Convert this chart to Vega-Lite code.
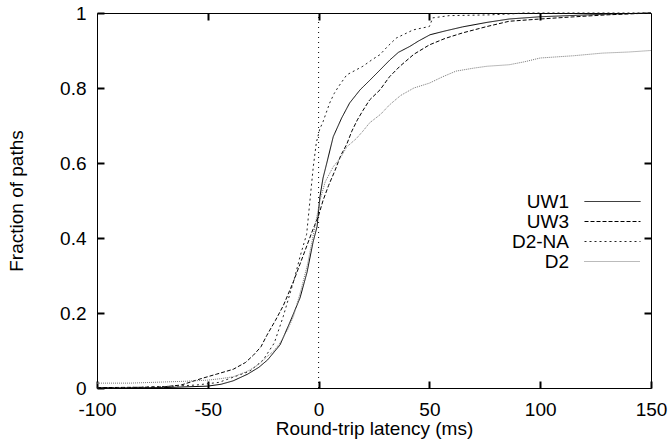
{
  "$schema": "https://vega.github.io/schema/vega-lite/v6.json",
  "width": 554,
  "height": 375,
  "autosize": "none",
  "padding": {"left": 97, "top": 13, "right": 17, "bottom": 55},
  "background": "white",
  "config": {
    "font": "Liberation Sans",
    "view": {"stroke": "#000", "strokeWidth": 1},
    "axis": {"grid": false, "domain": false, "labelColor": "#000", "titleColor": "#000", "labelFont": "Liberation Sans", "titleFont": "Liberation Sans", "labelFontSize": 19, "titleFontSize": 19, "titleFontWeight": "normal", "labelFlush": false, "labelOverlap": false}
  },
  "datasets": {
    "cdf": [
      {"s":"UW1","x":-100,"y":0},{"s":"UW1","x":-70,"y":0.001},{"s":"UW1","x":-50,"y":0.005},{"s":"UW1","x":-44,"y":0.01},{"s":"UW1","x":-38.6,"y":0.019},{"s":"UW1","x":-32,"y":0.037},{"s":"UW1","x":-27,"y":0.055},{"s":"UW1","x":-23,"y":0.075},{"s":"UW1","x":-17.4,"y":0.115},{"s":"UW1","x":-12.9,"y":0.176},{"s":"UW1","x":-8.4,"y":0.24},{"s":"UW1","x":-5.2,"y":0.309},{"s":"UW1","x":-2.5,"y":0.389},{"s":"UW1","x":-0.7,"y":0.43},{"s":"UW1","x":0.6,"y":0.51},{"s":"UW1","x":2,"y":0.56},{"s":"UW1","x":3.7,"y":0.6},{"s":"UW1","x":6.6,"y":0.67},{"s":"UW1","x":10.4,"y":0.72},{"s":"UW1","x":14,"y":0.76},{"s":"UW1","x":18.7,"y":0.795},{"s":"UW1","x":23,"y":0.82},{"s":"UW1","x":27.7,"y":0.848},{"s":"UW1","x":32.2,"y":0.875},{"s":"UW1","x":36,"y":0.895},{"s":"UW1","x":41.2,"y":0.911},{"s":"UW1","x":45,"y":0.925},{"s":"UW1","x":50.3,"y":0.942},{"s":"UW1","x":57,"y":0.952},{"s":"UW1","x":65,"y":0.963},{"s":"UW1","x":76,"y":0.975},{"s":"UW1","x":86,"y":0.984},{"s":"UW1","x":100,"y":0.99},{"s":"UW1","x":113,"y":0.993},{"s":"UW1","x":130,"y":0.997},{"s":"UW1","x":150,"y":1},
      {"s":"UW3","x":-100,"y":0.001},{"s":"UW3","x":-80,"y":0.002},{"s":"UW3","x":-70,"y":0.003},{"s":"UW3","x":-62,"y":0.008},{"s":"UW3","x":-53,"y":0.025},{"s":"UW3","x":-46,"y":0.037},{"s":"UW3","x":-38.5,"y":0.05},{"s":"UW3","x":-33,"y":0.068},{"s":"UW3","x":-29.5,"y":0.087},{"s":"UW3","x":-26,"y":0.11},{"s":"UW3","x":-23.4,"y":0.14},{"s":"UW3","x":-19.5,"y":0.18},{"s":"UW3","x":-15.9,"y":0.22},{"s":"UW3","x":-11.4,"y":0.283},{"s":"UW3","x":-6.9,"y":0.354},{"s":"UW3","x":-3,"y":0.416},{"s":"UW3","x":0,"y":0.46},{"s":"UW3","x":2,"y":0.5},{"s":"UW3","x":4.5,"y":0.54},{"s":"UW3","x":7.4,"y":0.58},{"s":"UW3","x":10,"y":0.62},{"s":"UW3","x":12.7,"y":0.65},{"s":"UW3","x":15,"y":0.685},{"s":"UW3","x":17.5,"y":0.715},{"s":"UW3","x":20,"y":0.74},{"s":"UW3","x":23,"y":0.768},{"s":"UW3","x":27.7,"y":0.795},{"s":"UW3","x":32,"y":0.83},{"s":"UW3","x":36.7,"y":0.858},{"s":"UW3","x":43,"y":0.89},{"s":"UW3","x":50,"y":0.915},{"s":"UW3","x":57,"y":0.932},{"s":"UW3","x":65,"y":0.947},{"s":"UW3","x":76,"y":0.964},{"s":"UW3","x":86,"y":0.978},{"s":"UW3","x":100,"y":0.984},{"s":"UW3","x":113,"y":0.989},{"s":"UW3","x":130,"y":0.995},{"s":"UW3","x":150,"y":1},
      {"s":"D2-NA","x":-100,"y":0},{"s":"D2-NA","x":-80,"y":0.002},{"s":"D2-NA","x":-65,"y":0.005},{"s":"D2-NA","x":-55,"y":0.008},{"s":"D2-NA","x":-45,"y":0.015},{"s":"D2-NA","x":-38,"y":0.03},{"s":"D2-NA","x":-31,"y":0.045},{"s":"D2-NA","x":-25,"y":0.075},{"s":"D2-NA","x":-20,"y":0.12},{"s":"D2-NA","x":-16,"y":0.19},{"s":"D2-NA","x":-13,"y":0.25},{"s":"D2-NA","x":-11,"y":0.29},{"s":"D2-NA","x":-8.4,"y":0.35},{"s":"D2-NA","x":-5.4,"y":0.41},{"s":"D2-NA","x":-3.9,"y":0.5},{"s":"D2-NA","x":-2.4,"y":0.59},{"s":"D2-NA","x":-1,"y":0.655},{"s":"D2-NA","x":0.5,"y":0.69},{"s":"D2-NA","x":2,"y":0.71},{"s":"D2-NA","x":3.5,"y":0.735},{"s":"D2-NA","x":5,"y":0.76},{"s":"D2-NA","x":7,"y":0.785},{"s":"D2-NA","x":8.9,"y":0.803},{"s":"D2-NA","x":12.7,"y":0.835},{"s":"D2-NA","x":20,"y":0.858},{"s":"D2-NA","x":24,"y":0.875},{"s":"D2-NA","x":27.7,"y":0.889},{"s":"D2-NA","x":31,"y":0.91},{"s":"D2-NA","x":35,"y":0.933},{"s":"D2-NA","x":42.7,"y":0.955},{"s":"D2-NA","x":50,"y":0.964},{"s":"D2-NA","x":51.5,"y":0.987},{"s":"D2-NA","x":59,"y":0.993},{"s":"D2-NA","x":77,"y":0.995},{"s":"D2-NA","x":88,"y":0.998},{"s":"D2-NA","x":92,"y":1},{"s":"D2-NA","x":150,"y":1},
      {"s":"D2","x":-100,"y":0.013},{"s":"D2","x":-85,"y":0.013},{"s":"D2","x":-70,"y":0.016},{"s":"D2","x":-60,"y":0.018},{"s":"D2","x":-50,"y":0.021},{"s":"D2","x":-44,"y":0.025},{"s":"D2","x":-38.5,"y":0.03},{"s":"D2","x":-34,"y":0.04},{"s":"D2","x":-31,"y":0.048},{"s":"D2","x":-27,"y":0.063},{"s":"D2","x":-23.4,"y":0.083},{"s":"D2","x":-20,"y":0.1},{"s":"D2","x":-17.4,"y":0.12},{"s":"D2","x":-14,"y":0.155},{"s":"D2","x":-11.4,"y":0.19},{"s":"D2","x":-8,"y":0.26},{"s":"D2","x":-5,"y":0.33},{"s":"D2","x":-2,"y":0.42},{"s":"D2","x":0.6,"y":0.5},{"s":"D2","x":3,"y":0.55},{"s":"D2","x":6.6,"y":0.59},{"s":"D2","x":10,"y":0.615},{"s":"D2","x":12.7,"y":0.643},{"s":"D2","x":17,"y":0.665},{"s":"D2","x":20,"y":0.685},{"s":"D2","x":23,"y":0.707},{"s":"D2","x":28,"y":0.73},{"s":"D2","x":32,"y":0.755},{"s":"D2","x":37,"y":0.78},{"s":"D2","x":43,"y":0.8},{"s":"D2","x":50,"y":0.813},{"s":"D2","x":56,"y":0.83},{"s":"D2","x":62,"y":0.845},{"s":"D2","x":70,"y":0.853},{"s":"D2","x":76,"y":0.858},{"s":"D2","x":86,"y":0.862},{"s":"D2","x":93,"y":0.87},{"s":"D2","x":100,"y":0.88},{"s":"D2","x":115,"y":0.886},{"s":"D2","x":128,"y":0.893},{"s":"D2","x":140,"y":0.896},{"s":"D2","x":150,"y":0.9}
    ],
    "zero": [{"x": 0, "y0": 0, "y1": 1}]
  },
  "layer": [
    {
      "data": {"name": "zero"},
      "mark": {"type": "rule", "color": "#000", "strokeWidth": 1, "strokeDash": [1, 4]},
      "encoding": {
        "x": {"field": "x", "type": "quantitative", "scale": {"domain": [-100, 150], "nice": false}, "axis": {"orient": "top", "values": [-50, 0, 50, 100], "labels": false, "ticks": true, "tickSize": 7, "tickWidth": 2, "tickColor": "#000000", "offset": -7, "title": null}},
        "y": {"field": "y0", "type": "quantitative", "scale": {"domain": [0, 1], "nice": false}, "axis": {"orient": "right", "values": [0.2, 0.4, 0.6, 0.8], "labels": false, "ticks": true, "tickSize": 7, "tickWidth": 2, "tickColor": "#000000", "offset": -7, "title": null}},
        "y2": {"field": "y1"}
      }
    },
    {
      "data": {"name": "cdf"},
      "mark": {"type": "line", "strokeWidth": 1, "interpolate": "linear"},
      "encoding": {
        "x": {"field": "x", "type": "quantitative", "scale": {"domain": [-100, 150], "nice": false}, "axis": {"orient": "bottom", "values": [-100, -50, 0, 50, 100, 150], "ticks": true, "tickSize": 7, "tickWidth": 2, "tickColor": "#000000", "offset": -7, "labelExpr": "'' + datum.value", "labelPadding": 12, "title": "Round-trip latency (ms)", "titlePadding": 0}},
        "y": {"field": "y", "type": "quantitative", "scale": {"domain": [0, 1], "nice": false}, "axis": {"orient": "left", "values": [0, 0.2, 0.4, 0.6, 0.8, 1], "ticks": true, "tickSize": 7, "tickWidth": 2, "tickColor": "#000000", "offset": -7, "format": "~g", "labelPadding": 11, "title": "Fraction of paths", "titlePadding": 33}},
        "color": {"field": "s", "type": "nominal", "sort": ["UW1", "UW3", "D2-NA", "D2"], "scale": {"domain": ["UW1", "UW3", "D2-NA", "D2"], "range": ["#000000", "#000000", "#222222", "#777777"]},
          "legend": {"title": null, "orient": "none", "legendX": 506, "legendY": 179, "symbolType": "M-4,0L4,0", "symbolSize": 196, "symbolStrokeWidth": 1, "symbolFillColor": "transparent", "labelAlign": "right", "labelBaseline": "middle", "labelOffset": -53, "labelFontSize": 19, "labelColor": "#000", "labelFont": "Liberation Sans", "rowPadding": 0, "padding": 0}},
        "strokeDash": {"field": "s", "type": "nominal", "sort": ["UW1", "UW3", "D2-NA", "D2"], "scale": {"domain": ["UW1", "UW3", "D2-NA", "D2"], "range": [[1, 0], [4, 2], [2, 3], [1, 1]]}, "legend": null}
      }
    }
  ],
  "resolve": {"axis": {"x": "independent", "y": "independent"}}
}
